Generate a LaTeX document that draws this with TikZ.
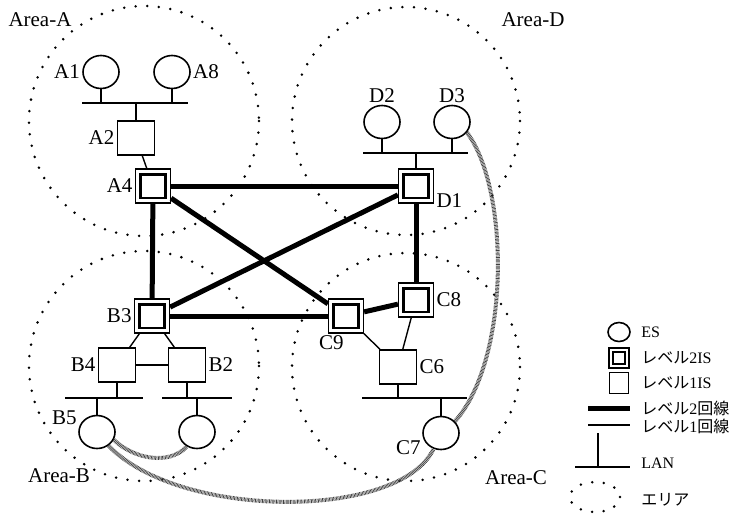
\documentclass[tikz,border=0pt]{standalone}
\usepackage{fontspec}
\setmainfont{Liberation Serif}
\newfontfamily\jpfont{Noto Sans CJK JP}
\usetikzlibrary{shapes.geometric}

\tikzset{
    es/.style = {ellipse, draw, line width=0.8pt, inner sep=0pt, minimum width=18pt, minimum height=16.5pt},
    isone/.style = {rectangle, draw, line width=0.8pt, inner sep=0pt, minimum width=18.5pt, minimum height=17pt, fill=white},
    inner box/.style = {path picture={\draw[line width=1.3pt] ([shift={(#1,#1)}]path picture bounding box.south west) rectangle ([shift={(-#1,-#1)}]path picture bounding box.north east);}},
    istwo/.style = {rectangle, draw, line width=0.6pt, inner sep=0pt, minimum width=17.5pt, minimum height=17pt, fill=white, inner box=2.6pt},
    area/.style = {line width=1.4pt, line cap=round, dash pattern=on 0pt off 5.8pt},
    lan/.style = {line width=0.9pt},
    levelone/.style = {line width=0.7pt},
    leveltwo/.style = {line width=2.5pt},
    esline/.style = {line width=2pt, black!75, dash pattern=on 0.35pt off 0.35pt},
}

\begin{document}
\begin{tikzpicture}[x=0.5pt, y=-0.5pt, font=\fontsize{10.5}{12}\selectfont]
            \useasboundingbox (0,0) rectangle (731,515);

            % areas
            \draw[area] (144,121) circle (115);
            \draw[area] (406,121) circle (114);
            \draw[area] (144,366) circle (115);
            \draw[area] (406,367) circle (114);
            \node(AreaA) at (40,20) {Area-A};
            \node(AreaD) at (533,20) {Area-D};
            \node(AreaB) at (59,476) {Area-B};
            \node(AreaC) at (516,478) {Area-C};

            % LANs
            \coordinate (lanA-w) at (82,103);  \coordinate (lanA-e) at (188,103);
            \coordinate (lanD-w) at (363,153); \coordinate (lanD-e) at (468,153);
            \coordinate (lanB-w) at (65,398);  \coordinate (lanB-e) at (143,398);
            \coordinate (lanX-w) at (162,398); \coordinate (lanX-e) at (232,398);
            \coordinate (lanC-w) at (362,398); \coordinate (lanC-e) at (467,398);

            \begin{scope}[every label/.style = {inner sep=1pt}]
                \node[es, label=left:A1](A1) at (101,72) {};
                \node[es, label=right:A8](A8) at (172,72) {};
                \node[isone, label=left:A2](A2) at (136,138) {};
                \node[istwo, label=left:A4](A4) at (153,186) {};

                \node[es, label=above:D2](D2) at (382,122) {};
                \node[es, label=above:D3](D3) at (452,122) {};
                \node[istwo, label=-15:D1](D1) at (416,186) {};

                \node[istwo, label=left:B3](B3) at (152,316) {};
                \node[isone, label=left:B4](B4) at (117,365) {};
                \node[isone, label=right:B2](B2) at (187,365) {};
                \node[es, label=165:B5](B5) at (97,432) {};
                \node[es](Bx) at (197,432) {};

                \node[istwo, label=right:C8](C8) at (416,300) {};
                \node[istwo, label={[anchor=north east]south:C9}](C9) at (346,316) {};
                \node[isone, label=right:C6](C6) at (398,367) {};
                \node[es, label=195:C7](C7) at (441,433) {};
            \end{scope}

            \begin{scope}[every path/.style = {lan}]
                \draw (lanA-w) -- (lanA-e);
                \draw (A1) -- (A1 |- lanA-w);
                \draw (A8) -- (A8 |- lanA-w);
                \draw (A2) -- (A2 |- lanA-w);
                \draw (lanD-w) -- (lanD-e);
                \draw (D2) -- (D2 |- lanD-w);
                \draw (D3) -- (D3 |- lanD-w);
                \draw (D1) -- (D1 |- lanD-w);
                \draw (lanB-w) -- (lanB-e);
                \draw (B4) -- (B4 |- lanB-w);
                \draw (B5) -- (B5 |- lanB-w);
                \draw (lanX-w) -- (lanX-e);
                \draw (B2) -- (B2 |- lanX-w);
                \draw (Bx) -- (Bx |- lanX-w);
                \draw (lanC-w) -- (lanC-e);
                \draw (C6) -- (C6 |- lanC-w);
                \draw (C7) -- (C7 |- lanC-w);
            \end{scope}

            \begin{scope}[every edge/.style = {draw, levelone}]
                \path(A2) edge[] (A4);
                \path(B3) edge[] (B4);
                \path(B3) edge[] (B2);
                \path(B4) edge[] (B2);
                \path(C9) edge[] (C6);
                \path(C8) edge[] (C6);
            \end{scope}

            \begin{scope}[every edge/.style = {draw, leveltwo}]
                \path(A4) edge[] (D1);
                \path(A4) edge[] (B3);
                \path(A4) edge[] (C9);
                \path(B3) edge[] (D1);
                \path(B3) edge[] (C9);
                \path(D1) edge[] (C8);
                \path(C9) edge[] (C8);
            \end{scope}

            % ES to ES
            \draw[esline] (D3.-35) .. controls (510,190) and (510,360) .. (C7.40);
            \draw[esline] (B5.-25) .. controls (135,460) and (170,465) .. (Bx.-125);
            \draw[esline] (B5.-50) .. controls (180,520) and (400,520) .. (C7.-115);

            % legend
            \begin{scope}[font=\fontsize{8}{9}\selectfont]
                \node[es, minimum width=11pt, minimum height=9.5pt](leg-es) at (619,332) {};
                \node[istwo, minimum width=10pt, minimum height=10pt, inner box=2pt](leg-l2) at (619,358) {};
                \node[isone, minimum width=9.5pt, minimum height=10.5pt](leg-l1) at (619,383) {};
                \coordinate (leg-two-w) at (588,408); \coordinate (leg-two-e) at (630,408);
                \coordinate (leg-one-w) at (588,425); \coordinate (leg-one-e) at (630,425);
                \coordinate (leg-lan-w) at (575,467); \coordinate (leg-lan-e) at (630,467);
                \coordinate (leg-lan-n) at (598,433);
                \draw[leveltwo] (leg-two-w) -- (leg-two-e);
                \draw[levelone] (leg-one-w) -- (leg-one-e);
                \draw[lan] (leg-lan-w) -- (leg-lan-e);
                \draw[lan] (leg-lan-n) -- (leg-lan-n |- leg-lan-w);
                \draw[area] (595,497) ellipse (25 and 15);

                \node[anchor=west, inner sep=0pt](txt-es) at (641,332) {ES};
                \node[anchor=west, inner sep=0pt](txt-l2) at (641,358) {{\jpfont レベル}2IS};
                \node[anchor=west, inner sep=0pt](txt-l1) at (641,383) {{\jpfont レベル}1IS};
                \node[anchor=west, inner sep=0pt](txt-two) at (641,408) {{\jpfont レベル}2{\jpfont 回線}};
                \node[anchor=west, inner sep=0pt](txt-one) at (641,426) {{\jpfont レベル}1{\jpfont 回線}};
                \node[anchor=west, inner sep=0pt](txt-lan) at (641,463) {LAN};
                \node[anchor=west, inner sep=0pt](txt-area) at (641,500) {{\jpfont エリア}};
            \end{scope}
        \end{tikzpicture}
\end{document}
